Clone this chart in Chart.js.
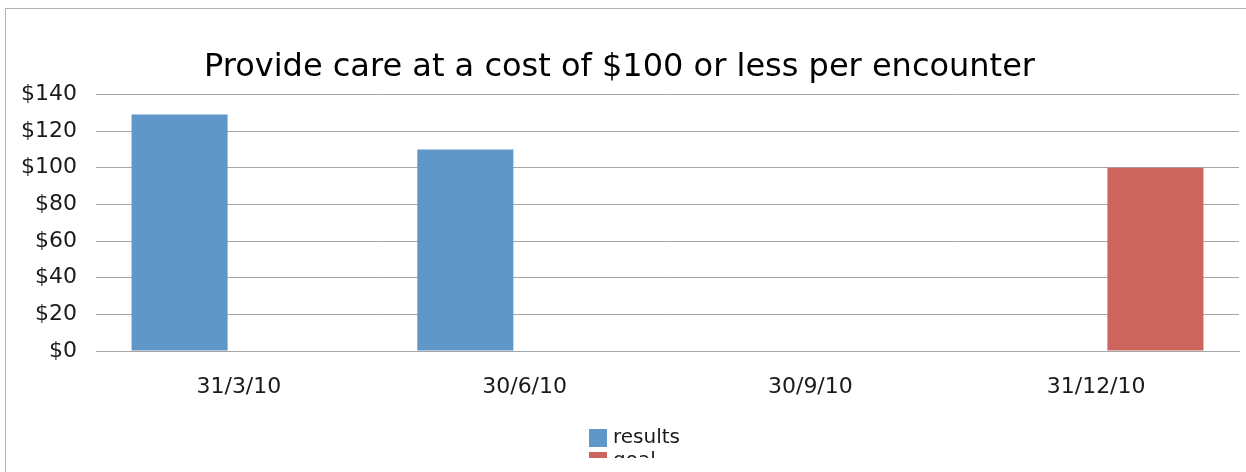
<!DOCTYPE html>
<html>
<head>
<meta charset="utf-8">
<script src="https://cdn.jsdelivr.net/npm/chart.js@4"></script>
<style>
  html, body { margin: 0; padding: 0; overflow: hidden; background: #fff; }
  #frame {
    position: absolute; left: 5px; top: 8px;
    width: 1400px; height: 600px;
    border: 1.5px solid #b3b3b3;
  }
  #wrap { position: absolute; left: 0; top: 0; width: 1246px; height: 458px; }
</style>
</head>
<body>
<div id="frame"></div>
<div id="wrap"><canvas id="costChart" width="1246" height="458"></canvas></div>
<script>
const categories = ["31/3/10", "30/6/10", "30/9/10", "31/12/10"];
const resultsValues = [129, 110, null, null];
const goalValues = [null, null, null, 100];
const yTicks = [0, 20, 40, 60, 80, 100, 120, 140];

const textColor = "#1a1a1a";
const fontFamily = "'DejaVu Sans', sans-serif";

// vertical legend under the axis, like the original (it runs off the bottom)
const stackedLegend = {
  id: "stackedLegend",
  afterDraw(chart) {
    const ctx = chart.ctx;
    ctx.save();
    ctx.font = "20px " + fontFamily;
    ctx.textBaseline = "middle";
    chart.data.datasets.forEach((ds, i) => {
      const y = 429 + i * 23;
      ctx.fillStyle = ds.backgroundColor;
      ctx.fillRect(589, y, 18, 18);
      ctx.fillStyle = textColor;
      ctx.fillText(ds.label, 613, y + 9);
    });
    ctx.restore();
  },
};

const ctx = document.getElementById("costChart").getContext("2d");
new Chart(ctx, {
  type: "bar",
  data: {
    labels: categories,
    datasets: [
      {
        label: "results",
        data: resultsValues,
        backgroundColor: "#6096c8",
        categoryPercentage: 0.83,
        barPercentage: 0.81,
      },
      {
        label: "goal",
        data: goalValues,
        backgroundColor: "#cc655e",
        categoryPercentage: 0.83,
        barPercentage: 0.81,
      },
    ],
  },
  options: {
    responsive: false,
    animation: false,
    layout: { padding: { left: 0, right: 7, top: 0, bottom: 0 } },
    plugins: {
      legend: { display: false },
      tooltip: { enabled: false },
      title: {
        display: true,
        text: "Provide care at a cost of $100 or less per encounter",
        color: "#000",
        font: { family: fontFamily, size: 32, weight: "normal" },
        padding: { top: 48, bottom: 8 },
      },
    },
    scales: {
      x: {
        grid: { display: false },
        border: { color: "#a6a6a6" },
        ticks: {
          color: textColor,
          font: { family: fontFamily, size: 22 },
          padding: 15,
        },
        afterFit(scale) {
          scale.height = 107;
        },
      },
      y: {
        min: 0,
        max: 140,
        afterBuildTicks(scale) {
          scale.ticks = yTicks.map((v) => ({ value: v }));
        },
        grid: { color: "#a6a6a6", drawTicks: false },
        border: { display: false },
        ticks: {
          color: textColor,
          font: { family: fontFamily, size: 22 },
          padding: 19,
          callback: (v) => "$" + v,
        },
        afterFit(scale) {
          scale.width = 96;
        },
      },
    },
  },
  plugins: [stackedLegend],
});
</script>
</body>
</html>
